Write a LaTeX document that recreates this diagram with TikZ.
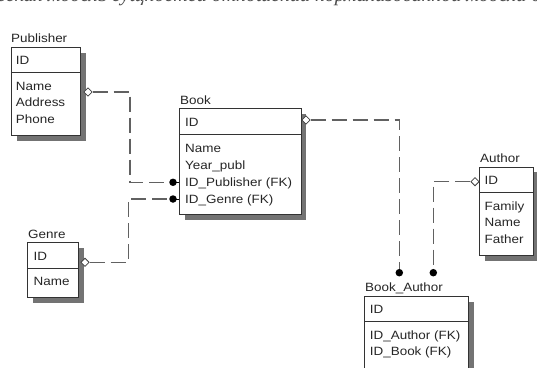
\documentclass[tikz,border=0pt]{standalone}
\usepackage{fontspec}
\setmainfont{Liberation Serif}
\newfontfamily\erfont[FakeStretch=1.12]{Liberation Sans}
\usetikzlibrary{shapes.geometric}
\begin{document}
\begin{tikzpicture}[x=1pt,y=-1pt,
  ent/.style={draw=black!80, line width=0.8pt, fill=white},
  shd/.style={fill=black!55},
  divl/.style={draw=black!80, line width=0.8pt},
  lbl/.style={anchor=base west, inner sep=0pt, font=\erfont\fontsize{12}{14}\selectfont, text=black!85},
  rel/.style={draw=black!62, line width=1.1pt, dash pattern=on 15pt off 6pt},
  stub/.style={draw=black, line width=1pt},
  opn/.style={diamond, draw=black!75, fill=white, line width=0.8pt, inner sep=0pt, minimum width=8.5pt, minimum height=8.5pt},
  fk/.style={circle, fill=black, inner sep=0pt, minimum size=7.5pt},
]
\useasboundingbox (0,0) rectangle (537,367);
\clip (0,0) rectangle (537,367);
\fill[white] (0,0) rectangle (537,367);

% clipped caption at the top
\node[anchor=south, inner sep=0pt, font=\itshape\fontsize{20}{24}\selectfont, text=black!70] (hdr) at (270,6.5) {Логическая модель сущностей отношений нормализованной модели данных};

% ---------- Publisher ----------
\fill[shd] (16.5,52.5) rectangle (86,141);
\node[ent, anchor=north west, minimum width=69pt, minimum height=88.3pt, inner sep=0pt] (pub) at (11,46.7) {};
\draw[divl] (11,72.3) -- (80,72.3);
\node[lbl] (pubT) at (11,42.6) {Publisher};
\node[lbl] (pub1) at (15.7,64.3) {ID};
\node[lbl] (pub2) at (15.7,90) {Name};
\node[lbl] (pub3) at (15.7,106.5) {Address};
\node[lbl] (pub4) at (15.7,123.2) {Phone};

% ---------- Book ----------
\fill[shd] (184.8,113.8) rectangle (306.2,219.8);
\node[ent, anchor=north west, minimum width=121.4pt, minimum height=106pt, inner sep=0pt] (book) at (179.3,108.3) {};
\draw[divl] (179.3,134.3) -- (300.7,134.3);
\node[lbl] (bookT) at (180,104.3) {Book};
\node[lbl] (book1) at (185,126) {ID};
\node[lbl] (book2) at (185,152) {Name};
\node[lbl] (book3) at (185,169.3) {Year\_publ};
\node[lbl] (book4) at (185,186.6) {ID\_Publisher (FK)};
\node[lbl] (book5) at (185,203.3) {ID\_Genre (FK)};

% ---------- Genre ----------
\fill[shd] (32.8,247.8) rectangle (83.8,302.8);
\node[ent, anchor=north west, minimum width=51pt, minimum height=55pt, inner sep=0pt] (gen) at (27.3,242.3) {};
\draw[divl] (27.3,268.3) -- (78.3,268.3);
\node[lbl] (genT) at (28,238.3) {Genre};
\node[lbl] (gen1) at (33.5,260.3) {ID};
\node[lbl] (gen2) at (33.5,285.3) {Name};

% ---------- Author ----------
\fill[shd] (484.8,172.2) rectangle (538.8,260.5);
\node[ent, anchor=north west, minimum width=54pt, minimum height=88.3pt, inner sep=0pt] (auth) at (479.3,166.7) {};
\draw[divl] (479.3,192.3) -- (533.3,192.3);
\node[lbl] (authT) at (480,162.3) {Author};
\node[lbl] (auth1) at (484.5,184.3) {ID};
\node[lbl] (auth2) at (484.5,210) {Family};
\node[lbl] (auth3) at (484.5,226.6) {Name};
\node[lbl] (auth4) at (484.5,243.3) {Father};

% ---------- Book_Author ----------
\fill[shd] (369.5,301.5) rectangle (473.8,400);
\node[ent, anchor=north west, minimum width=104.3pt, minimum height=100pt, inner sep=0pt] (ba) at (364,296) {};
\draw[divl] (364,321.7) -- (468.3,321.7);
\node[lbl] (baT) at (365,291.6) {Book\_Author};
\node[lbl] (ba1) at (369.7,313.6) {ID};
\node[lbl] (ba2) at (369.7,339.3) {ID\_Author (FK)};
\node[lbl] (ba3) at (369.7,355) {ID\_Book (FK)};

% ---------- relationship ends ----------
\node[opn] (dPub) at (88,92) {};
\node[opn] (dGen) at (85,262.3) {};
\node[opn] (dBook) at (306,120) {};
\node[opn] (dAuth) at (475,181.7) {};

\node[fk] (fPub) at (173,182.3) {};
\node[fk] (fGen) at (173,199) {};
\node[fk] (fBook) at (399.3,272.7) {};
\node[fk] (fAuth) at (433.3,272.7) {};

\coordinate (cPub) at (130,92);
\coordinate (cGen) at (128.3,262.3);

% ---------- connectors ----------
\draw[rel] (dPub.east) -- (cPub) |- (fPub.west);
\draw[rel] (dGen.east) -- (cGen) |- (fGen.west);
\draw[rel] (dBook.east) -| (fBook.north);
\draw[rel] (dAuth.west) -| (fAuth.north);

\draw[stub] (fPub.center) -- (fPub.center -| book.west);
\draw[stub] (fGen.center) -- (fGen.center -| book.west);
\end{tikzpicture}
\end{document}
